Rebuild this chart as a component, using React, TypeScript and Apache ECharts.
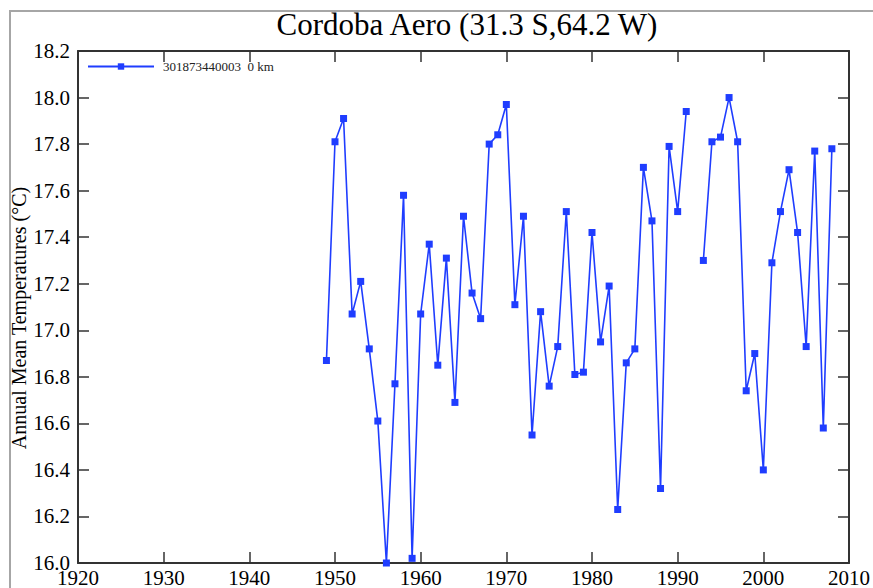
import React, { useEffect, useRef } from "react";
import * as echarts from "echarts";

const TITLE = "Cordoba Aero (31.3 S,64.2 W)";
const SERIES_NAME = "301873440003  0 km";
const Y_NAME = "Annual Mean Temperatures (°C)";

const years = [
  1949, 1950, 1951, 1952, 1953, 1954, 1955, 1956, 1957, 1958, 1959,
  1960, 1961, 1962, 1963, 1964, 1965, 1966, 1967, 1968, 1969,
  1970, 1971, 1972, 1973, 1974, 1975, 1976, 1977, 1978, 1979,
  1980, 1981, 1982, 1983, 1984, 1985, 1986, 1987, 1988, 1989,
  1990, 1991, 1992, 1993, 1994, 1995, 1996, 1997, 1998, 1999,
  2000, 2001, 2002, 2003, 2004, 2005, 2006, 2007, 2008,
];

const temps: (number | null)[] = [
  16.87, 17.81, 17.91, 17.07, 17.21, 16.92, 16.61, 16.0, 16.77, 17.58, 16.02,
  17.07, 17.37, 16.85, 17.31, 16.69, 17.49, 17.16, 17.05, 17.8, 17.84,
  17.97, 17.11, 17.49, 16.55, 17.08, 16.76, 16.93, 17.51, 16.81, 16.82,
  17.42, 16.95, 17.19, 16.23, 16.86, 16.92, 17.7, 17.47, 16.32, 17.79,
  17.51, 17.94, null, 17.3, 17.81, 17.83, 18.0, 17.81, 16.74, 16.9,
  16.4, 17.29, 17.51, 17.69, 17.42, 16.93, 17.77, 16.58, 17.78,
];

const X_MIN = 1920;
const X_MAX = 2010;
const X_STEP = 10;
const Y_MIN = 16.0;
const Y_MAX = 18.2;
const Y_STEP = 0.2;

const FONT = "'Liberation Serif', 'DejaVu Serif', serif";
const AXIS_COLOR = "#333";
const LINE_COLOR = "#1f3dff";

export default function App() {
  const ref = useRef<HTMLDivElement>(null);

  useEffect(() => {
    if (!ref.current) return;
    const chart = echarts.init(ref.current, null, { renderer: "svg" });
    const data = years.map((y, i) => [y, temps[i] === null ? "-" : temps[i]]);

    const axisLine = { show: true, onZero: false, lineStyle: { color: AXIS_COLOR, width: 2 } };
    const axisTick = { show: true, inside: true, length: 11, lineStyle: { color: AXIS_COLOR, width: 1.5 } };

    chart.setOption({
      animation: false,
      backgroundColor: "#fff",
      grid: { left: 78, right: 18, top: 51, bottom: 22, containLabel: false },
      graphic: [
        {
          type: "rect",
          shape: { x: 10, y: 11, width: 900, height: 620 },
          style: { fill: "none", stroke: "#a6a6a6", lineWidth: 2 },
          silent: true,
        },
        {
          type: "text",
          x: 467,
          y: 24,
          style: {
            text: TITLE,
            font: `31px ${FONT}`,
            fill: "#000",
            textAlign: "center",
            textVerticalAlign: "middle",
          },
        },
        {
          type: "text",
          x: 19,
          y: 318,
          rotation: Math.PI / 2,
          style: {
            text: Y_NAME,
            font: `20px ${FONT}`,
            fill: "#000",
            textAlign: "center",
            textVerticalAlign: "middle",
          },
        },
      ],
      legend: {
        show: true,
        left: 82,
        top: 55,
        itemWidth: 66,
        itemHeight: 8,
        data: [SERIES_NAME],
        textStyle: { fontFamily: FONT, fontSize: 13, color: "#222", padding: [0, 0, 0, 4] },
      },
      xAxis: [
        {
          type: "value",
          position: "bottom",
          min: X_MIN,
          max: X_MAX,
          interval: X_STEP,
          axisLine,
          axisTick,
          splitLine: { show: false },
          axisLabel: {
            show: true,
            margin: 4,
            fontFamily: FONT,
            fontSize: 21,
            color: "#000",
            showMinLabel: true,
            showMaxLabel: true,
            formatter: (v: number) => String(v),
          },
        },
        {
          type: "value",
          position: "top",
          min: X_MIN,
          max: X_MAX,
          interval: X_STEP,
          axisLine,
          axisTick,
          splitLine: { show: false },
          axisLabel: { show: false },
        },
      ],
      yAxis: [
        {
          type: "value",
          position: "left",
          min: Y_MIN,
          max: Y_MAX,
          interval: Y_STEP,
          axisLine,
          axisTick,
          splitLine: { show: false },
          axisLabel: {
            show: true,
            margin: 8,
            fontFamily: FONT,
            fontSize: 21,
            color: "#000",
            formatter: (v: number) => v.toFixed(1),
          },
        },
        {
          type: "value",
          position: "right",
          min: Y_MIN,
          max: Y_MAX,
          interval: Y_STEP,
          axisLine,
          axisTick,
          splitLine: { show: false },
          axisLabel: { show: false },
        },
      ],
      series: [
        {
          name: SERIES_NAME,
          type: "line",
          xAxisIndex: 0,
          yAxisIndex: 0,
          data,
          connectNulls: false,
          clip: false,
          symbol: "rect",
          symbolSize: 7,
          showSymbol: true,
          lineStyle: { color: LINE_COLOR, width: 1.6 },
          itemStyle: { color: LINE_COLOR },
        },
      ],
    });

    return () => chart.dispose();
  }, []);

  return (
    <div
      ref={ref}
      style={{ position: "fixed", left: 0, top: 0, width: 873, height: 588, background: "#fff" }}
    />
  );
}
